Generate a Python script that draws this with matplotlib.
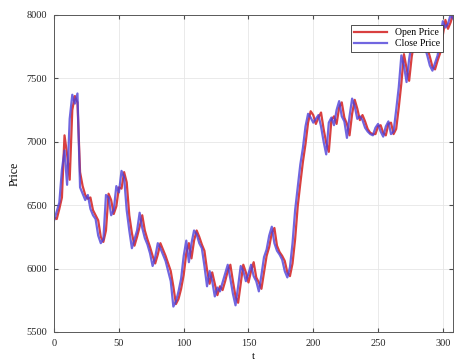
import numpy as np
import matplotlib
matplotlib.use('Agg')
import matplotlib.pyplot as plt

# данные: цены открытия и закрытия (шаг 2 по t)
t = np.arange(0, 310, 2)

close_price = [
    6380, 6450, 6520, 6780, 6930, 6660, 7180, 7370, 7300, 7380,
    6640, 6590, 6540, 6580, 6470, 6420, 6390, 6260, 6200, 6230,
    6580, 6560, 6420, 6460, 6650, 6600, 6770, 6720, 6460, 6300,
    6160, 6230, 6300, 6440, 6320, 6240, 6190, 6120, 6020, 6090,
    6200, 6160, 6110, 6060, 5980, 5900, 5700, 5740, 5820, 5920,
    6100, 6220, 6050, 6200, 6300, 6270, 6200, 6160, 6020, 5860,
    5980, 5900, 5780, 5850, 5820, 5890, 5960, 6030, 5920, 5800,
    5710, 5860, 6020, 5980, 5900, 5960, 6030, 5940, 5900, 5820,
    5950, 6090, 6150, 6260, 6330, 6200, 6140, 6110, 6070, 5980,
    5930, 6010, 6200, 6460, 6640, 6820, 6950, 7120, 7220, 7190,
    7150, 7180, 7210, 7120, 7000, 6900, 7150, 7190, 7130, 7250,
    7320, 7200, 7160, 7030, 7200, 7340, 7280, 7180, 7200, 7170,
    7110, 7080, 7060, 7050, 7110, 7140, 7080, 7040, 7120, 7160,
    7060, 7080, 7250, 7430, 7680, 7600, 7470, 7650, 7780, 7820,
    7880, 7820, 7850, 7750, 7680, 7600, 7560, 7620, 7680, 7820,
    7950, 7900, 7930, 8000, 7970,
]

open_price = [
    6400, 6390, 6470, 6560, 7050, 6900, 6700, 7250, 7360, 7310,
    6760, 6650, 6580, 6550, 6560, 6460, 6420, 6380, 6250, 6210,
    6300, 6590, 6540, 6430, 6490, 6640, 6630, 6760, 6680, 6420,
    6280, 6180, 6250, 6330, 6420, 6300, 6230, 6170, 6100, 6040,
    6110, 6200, 6150, 6100, 6040, 5980, 5860, 5720, 5760, 5840,
    5950, 6120, 6200, 6080, 6220, 6300, 6250, 6190, 6140, 5990,
    5880, 5970, 5880, 5790, 5860, 5830, 5900, 5980, 6030, 5900,
    5780, 5730, 5880, 6030, 5970, 5890, 5980, 6050, 5930, 5890,
    5840, 5970, 6100, 6170, 6280, 6320, 6180, 6130, 6100, 6060,
    5970, 5940, 6040, 6230, 6490, 6670, 6840, 6980, 7150, 7240,
    7210, 7140, 7190, 7230, 7100, 6990, 6920, 7170, 7200, 7140,
    7270, 7310, 7190, 7140, 7050, 7220, 7330, 7260, 7170, 7210,
    7160, 7100, 7070, 7060, 7060, 7120, 7130, 7070, 7050, 7140,
    7150, 7060, 7100, 7270, 7460, 7690, 7580, 7480, 7670, 7790,
    7830, 7870, 7810, 7840, 7740, 7670, 7590, 7570, 7640, 7700,
    7840, 7960, 7890, 7940, 8010,
]

x_ticks = [0, 50, 100, 150, 200, 250, 300]
y_ticks = [5500, 6000, 6500, 7000, 7500, 8000]

plt.rcParams['font.family'] = ['Liberation Serif', 'DejaVu Serif']

fig = plt.figure(figsize=(4.55, 3.62), dpi=100)
ax = fig.add_axes([0.119, 0.083, 0.877, 0.876])

ax.plot(t, open_price, color=(0.85, 0.25, 0.25), lw=1.6, label='Open Price')
ax.plot(t, close_price, color=(0.3, 0.25, 0.85), lw=1.6, alpha=0.8, label='Close Price')

ax.set_xlim(0, 308)
ax.set_ylim(5500, 8000)
ax.set_xticks(x_ticks)
ax.set_yticks(y_ticks)
ax.tick_params(direction='in', top=True, right=True, labelsize=7.5, length=3,
               color='0.3', labelcolor='0.15', pad=5)
ax.grid(True, color='0.9', lw=0.6)
for s in ax.spines.values():
    s.set_color('0.35')
    s.set_linewidth(0.7)

ax.set_xlabel('t', fontsize=8, labelpad=3)
ax.set_ylabel('Price', fontsize=8.5, labelpad=4)

leg = ax.legend(loc='upper right', fontsize=7, fancybox=False, framealpha=1,
                edgecolor='0.2', borderaxespad=1.0, handlelength=3.4,
                borderpad=0.35, labelspacing=0.25)
leg.get_frame().set_linewidth(0.6)

fig.savefig('out.png', dpi=100)
